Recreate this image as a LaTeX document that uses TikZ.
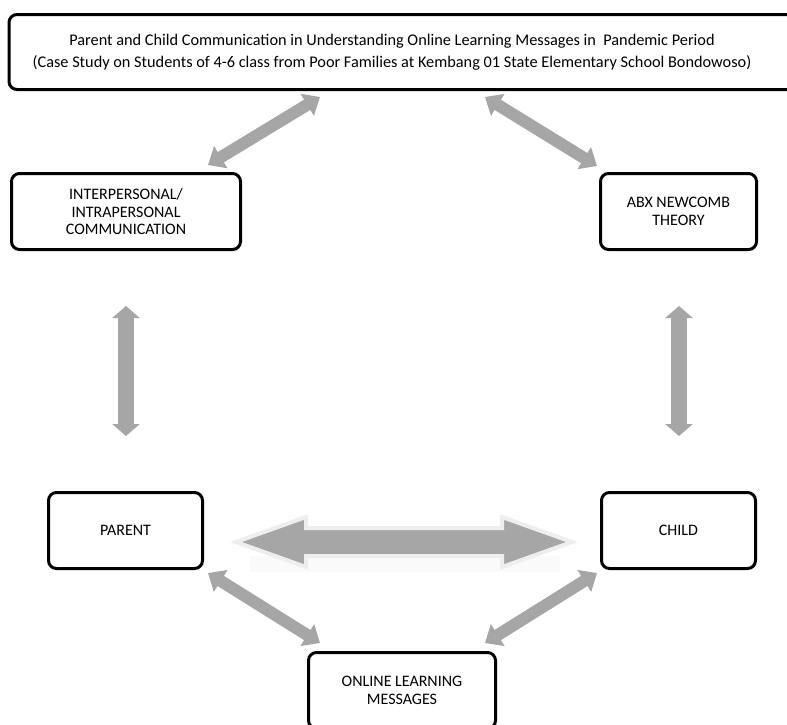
\documentclass[tikz,border=0pt]{standalone}
\usepackage{fontspec}
\setmainfont{Carlito}
\usetikzlibrary{arrows.meta,shadows}
\definecolor{arrowgray}{HTML}{A6A6A6}
\definecolor{rimgray}{HTML}{EEEEEE}
\begin{document}
\begin{tikzpicture}[x=1pt,y=-1pt,
  box/.style={draw=black, line width=3pt, rounded corners=8pt, fill=white,
    align=center, font=\fontsize{16}{17.7}\selectfont, inner sep=0pt,
    drop shadow={shadow xshift=0.8pt, shadow yshift=-1.2pt, opacity=0.25}},
  vlink/.style={draw=arrowgray, line width=16pt,
    {Triangle[length=12pt,width=27pt]}-{Triangle[length=12pt,width=27pt]}},
  dlink/.style={draw=arrowgray, line width=12pt,
    {Triangle[length=15pt,width=25pt]}-{Triangle[length=15pt,width=25pt]}},
  bigarrow/.style={draw=rimgray, line width=4pt, line join=miter, fill=arrowgray},
]
\useasboundingbox (0,0) rectangle (787,724);
\begin{scope}
\clip (-5,-5) rectangle (787,730);
% top box, running off the right edge of the page
\node[box, minimum width=1000pt, minimum height=75pt,
  label={[name=title, font=\fontsize{16.3}{22}\selectfont, align=center, xshift=-117pt]center:{Parent and Child Communication in Understanding Online Learning Messages in~ Pandemic Period\\(Case Study on Students of 4-6 class from Poor Families at Kembang 01 State Elementary School Bondowoso)}}]
  (top) at (509,52) {};
\end{scope}

\node[box, minimum width=229pt, minimum height=76pt] (inter) at (126,211.5)
  {INTERPERSONAL/\\INTRAPERSONAL\\COMMUNICATION};
\node[box, minimum width=156pt, minimum height=76pt] (abx) at (678.5,211.5)
  {ABX NEWCOMB\\THEORY};
\node[box, minimum width=154pt, minimum height=76pt] (parent) at (125.5,530.5) {PARENT};
\node[box, minimum width=154pt, minimum height=76pt] (child) at (678.5,530.5) {CHILD};
\begin{scope}
\clip (200,600) rectangle (600,724);
\node[box, minimum width=187pt, minimum height=76pt] (online) at (402,690.5)
  {ONLINE LEARNING\\MESSAGES};
\end{scope}

% arrow end points
\coordinate (t1) at (320,97);   \coordinate (i1) at (208,165);
\coordinate (t2) at (485,97);   \coordinate (a1) at (597,166);
\coordinate (i2) at (126,306);  \coordinate (p1) at (126,436);
\coordinate (a2) at (679,306);  \coordinate (c1) at (679,436);
\coordinate (p2) at (208,573);  \coordinate (o1) at (320,643);
\coordinate (c2) at (597,573);  \coordinate (o2) at (485,643);
\coordinate (cl) at (236,542);  \coordinate (cr) at (572,542);

% connectors
\draw[dlink] (t1) -- (i1);
\draw[dlink] (t2) -- (a1);
\draw[vlink] (i2) -- (p1);
\draw[vlink] (a2) -- (c1);
\draw[dlink] (p2) -- (o1);
\draw[dlink] (c2) -- (o2);

% central double arrow with faint reflection
\fill[gray!4] (250,556) rectangle (560,572);
\draw[bigarrow] (cl) -- ++(70,-25) -- ++(0,11) -- ++(196,0) -- ++(0,-11) -- (cr)
  -- ++(-70,25) -- ++(0,-11) -- ++(-196,0) -- ++(0,11) -- cycle;
\end{tikzpicture}
\end{document}
